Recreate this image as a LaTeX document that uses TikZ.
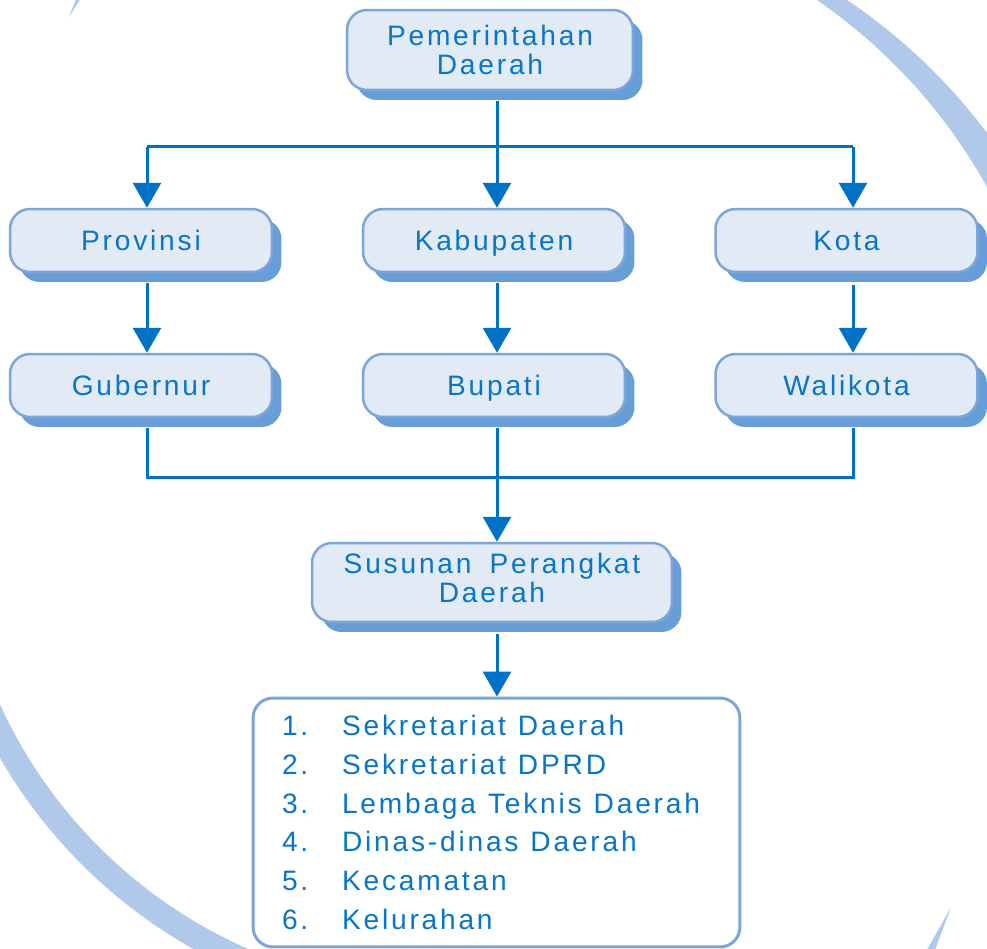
\documentclass[tikz,border=0pt]{standalone}
\usepackage{fontspec}
\setmainfont{Liberation Sans}[LetterSpace=10, WordSpace=1.7]
\usetikzlibrary{arrows.meta,shadows,calc}
\definecolor{bandcol}{RGB}{176,201,234}
\definecolor{boxfill}{RGB}{226,234,246}
\definecolor{boxline}{RGB}{125,165,216}
\definecolor{shadowcol}{RGB}{104,158,216}
\definecolor{txtcol}{RGB}{8,118,200}
\definecolor{conncol}{RGB}{0,114,198}
\newcommand{\listitem}[2]{\makebox[1.2cm][l]{#1}#2}
\begin{document}
\begin{tikzpicture}[x=0.02cm,y=-0.02cm,
  box/.style={rounded corners=0.4cm, draw=boxline, line width=0.05cm, fill=boxfill,
    text=txtcol, align=center, font=\fontsize{16pt}{16.5pt}\selectfont, inner sep=0pt,
    drop shadow={shadow xshift=0.19cm, shadow yshift=-0.2cm, fill=shadowcol, opacity=1}},
  smallbox/.style={box, minimum width=5.24cm, minimum height=1.26cm,
    text height=11.5pt, text depth=0pt},
  listbox/.style={rounded corners=0.4cm, draw=boxline, line width=0.06cm, fill=white,
    text=txtcol, align=left, text width=8.58cm, inner sep=0pt,
    font=\fontsize{16pt}{22.1pt}\selectfont},
  conn/.style={draw=conncol, line width=0.06cm},
  arr/.style={conn, -{Triangle[length=0.5cm,width=0.56cm]}}]
\fill[white] (0,0) rectangle (987,949);
\useasboundingbox (0,0) rectangle (987,949);
% background crescents
\begin{scope}
  \clip (600,-5) rectangle (995,400);
  \fill[bandcol, even odd rule]
    (526.6,477.4) circle[radius=11.5cm]
    (505.9,453.6) circle[radius=11cm];
\end{scope}
\begin{scope}
  \clip (-5,550) rectangle (300,955);
  \fill[bandcol, even odd rule]
    (444,502) circle[radius=10.25cm]
    (444,502) circle[radius=9.76cm];
\end{scope}
\fill[bandcol] (76,-1) -- (80.5,-1) -- (69,17) -- cycle;
\fill[bandcol] (951,907) -- (935,950) -- (927,950) -- cycle;

\node[box, minimum width=5.72cm, minimum height=1.6cm, text depth=0pt] (pem) at (490,50) {Pemerintahan\\Daerah};
\node[smallbox] (prov) at (141,240.5) {Provinsi};
\node[smallbox] (kab) at (494,240.5) {Kabupaten};
\node[smallbox] (kota) at (846.5,240.5) {Kota};
\node[smallbox] (gub) at (141,385.5) {Gubernur};
\node[smallbox] (bup) at (494,385.5) {Bupati};
\node[smallbox] (wal) at (846.5,385.5) {Walikota};
\node[box, minimum width=7.2cm, minimum height=1.58cm, text depth=5.5pt] (sus) at (492,582.5) {Susunan Perangkat\\Daerah};
\node[listbox, minimum width=9.74cm, minimum height=4.98cm] (list) at (496.5,822.5)
  {\spaceskip=6.8pt\relax
   \listitem{1.}{Sekretariat Daerah}\\
   \listitem{2.}{Sekretariat DPRD}\\
   \listitem{3.}{Lembaga Teknis Daerah}\\
   \listitem{4.}{Dinas-dinas Daerah}\\
   \listitem{5.}{Kecamatan}\\
   \listitem{6.}{Kelurahan}};

\coordinate (lx) at (147,147);
\coordinate (rx) at (853,147);
\coordinate (topbar) at (497,147);
\coordinate (botbar) at (497,477);

\draw[conn] (lx) -- (rx);
\draw[arr] ($(pem.south -| topbar)+(0,10)$) -- (topbar |- kab.north);
\draw[arr] (lx) -- (lx |- prov.north);
\draw[arr] (rx) -- (rx |- kota.north);
\draw[arr] ($(prov.south -| lx)+(0,10)$) -- (lx |- gub.north);
\draw[arr] ($(kab.south -| topbar)+(0,10)$) -- (topbar |- bup.north);
\draw[arr] ($(kota.south -| rx)+(0,12)$) -- (rx |- wal.north);
\draw[conn] ($(gub.south -| lx)+(0,10)$) -- (lx |- botbar) -- (rx |- botbar) -- ($(wal.south -| rx)+(0,10)$);
\draw[arr] ($(bup.south -| botbar)+(0,10)$) -- (botbar |- sus.north);
\draw[arr] ($(sus.south -| botbar)+(0,11)$) -- (botbar |- list.north);
\end{tikzpicture}
\end{document}
